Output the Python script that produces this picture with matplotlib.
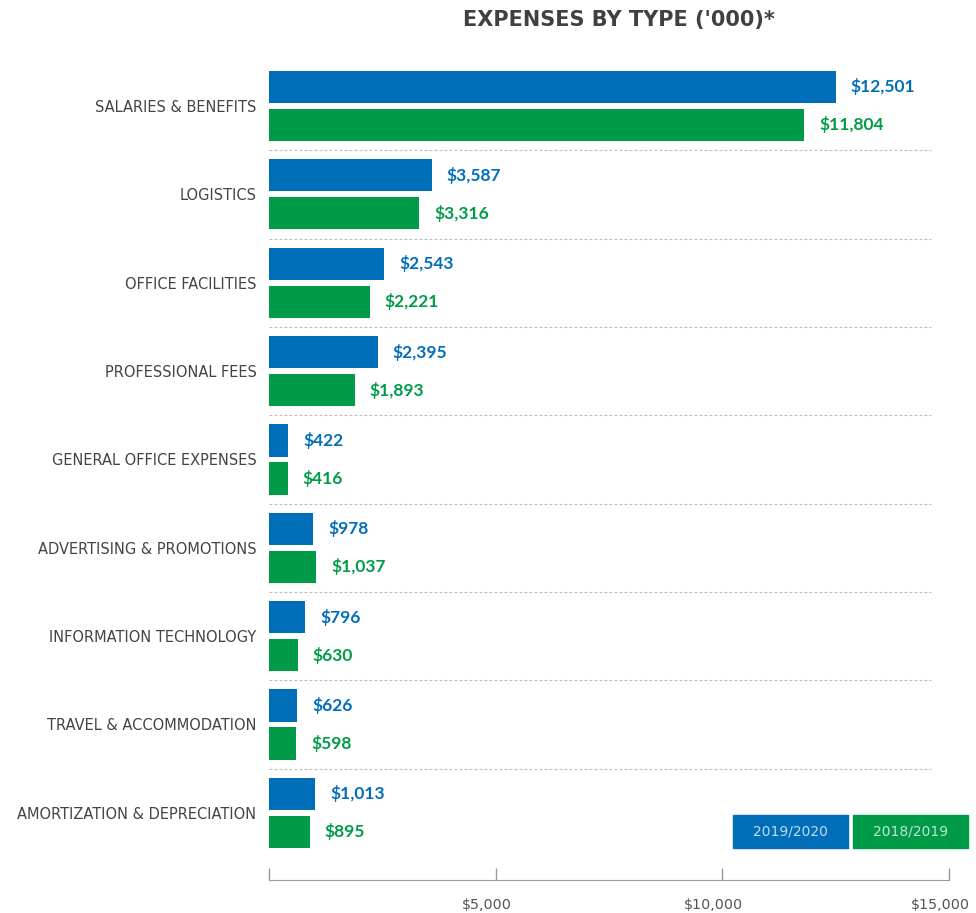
import matplotlib
matplotlib.use("Agg")
import matplotlib.pyplot as plt
import matplotlib.transforms as mtransforms
from matplotlib.patches import Rectangle

BLUE  = "#006EB9"
GREEN = "#009B48"
GREY  = "#444444"

plt.rcParams["font.family"] = ["DejaVu Sans"]

categories = ["SALARIES & BENEFITS", "LOGISTICS", "OFFICE FACILITIES",
              "PROFESSIONAL FEES", "GENERAL OFFICE EXPENSES",
              "ADVERTISING & PROMOTIONS", "INFORMATION TECHNOLOGY",
              "TRAVEL & ACCOMMODATION", "AMORTIZATION & DEPRECIATION"]
fy2020 = [12501, 3587, 2543, 2395, 422, 978, 796, 626, 1013]
fy2019 = [11804, 3316, 2221, 1893, 416, 1037, 630, 598, 895]
series_names = ["2019/2020", "2018/2019"]
xticks = [0, 5000, 10000, 15000]
xticklabels = ["", "$5,000", "$10,000", "$15,000"]

W, H = 976, 913
fig = plt.figure(figsize=(W / 100, H / 100), dpi=100)
ax = fig.add_axes([269 / W, 33 / H, (958 - 269) / W, (880 - 61.8) / H])

ypos = list(range(len(categories)))
off, bh = 0.215, 0.365
b1 = ax.barh([y - off for y in ypos], fy2020, height=bh, color=BLUE)
b2 = ax.barh([y + off for y in ypos], fy2019, height=bh, color=GREEN)

for bars, vals, col in [(b1, fy2020, BLUE), (b2, fy2019, GREEN)]:
    for bar, v in zip(bars, vals):
        ax.annotate(f"${v:,}", (v, bar.get_y() + bar.get_height() / 2),
                    xytext=(15, 0), textcoords="offset pixels",
                    ha="left", va="center", color=col,
                    fontsize=12.5, fontweight="bold", family="Lato")

# dashed separators between groups
for y in ypos[:-1]:
    ax.plot([0, 14600], [y + 0.5, y + 0.5], ls=(0, (2.5, 2)), lw=0.8,
            color="#bbbbbb", clip_on=False)

ax.set_xlim(0, 15200)
ax.set_ylim(8.76, -0.5)

ax.set_yticks(ypos)
ax.set_yticklabels(categories, fontsize=10.5, color=GREY)
ax.tick_params(axis="y", length=0, pad=9)

ax.set_xticks(xticks)
ax.set_xticklabels(xticklabels, fontsize=10.3, color="#555555")
ax.tick_params(axis="x", direction="in", length=9, width=1, color="#999999", pad=13)
shift = mtransforms.ScaledTranslation(-9 / 100, 0, fig.dpi_scale_trans)
for lab in ax.get_xticklabels():
    lab.set_transform(lab.get_transform() + shift)

for s in ["top", "right", "left"]:
    ax.spines[s].set_visible(False)
ax.spines["bottom"].set_color("#999999")
ax.spines["bottom"].set_bounds(0, 15000)

fig.text(619 / W, 1 - 20 / H, "EXPENSES BY TYPE ('000)*", ha="center", va="center",
         fontsize=15, fontweight="bold", color="#404040")

# legend boxes
for x0, col, name in [(733, BLUE, series_names[0]), (853, GREEN, series_names[1])]:
    fig.patches.append(Rectangle((x0 / W, 1 - 848 / H), 115 / W, 33 / H,
                                 transform=fig.transFigure, color=col))
    fig.text((x0 + 57.5) / W, 1 - 831.5 / H, name, ha="center", va="center",
             fontsize=10, color="white", alpha=0.75)

fig.savefig("out.png", dpi=100)
